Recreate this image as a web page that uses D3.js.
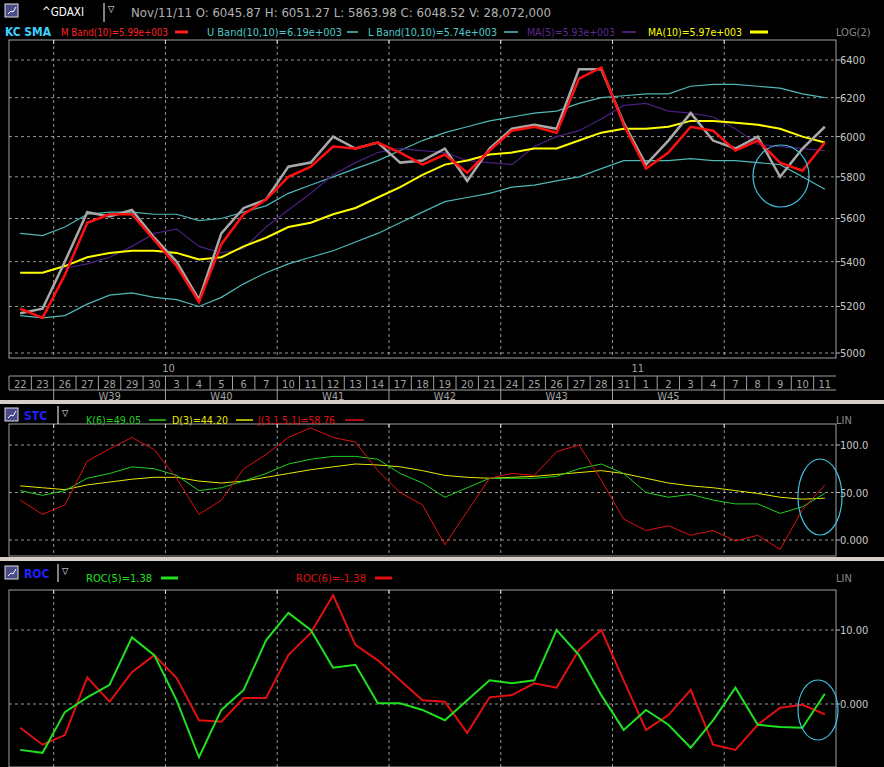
<!DOCTYPE html>
<html><head><meta charset="utf-8">
<script src="https://cdn.jsdelivr.net/npm/d3@7"></script>
<style>body{margin:0;background:#000}text{font-family:"Liberation Sans Narrow","DejaVu Sans Condensed",sans-serif}</style>
</head><body><svg id="c" width="884" height="767"></svg>
<script>
var days = ["22","23","26","27","28","29","30","3","4","5","6","7","10","11","12","13","14","17","18","19","20","21","24","25","26","27","28","31","1","2","3","4","7","8","9","10","11"];
var weeks = [["W39",2],["W40",7],["W41",12],["W42",17],["W43",22],["W45",27],["",32]];
var months = [["10",7],["11",28]];
var closeVals = [5170,5190,5400,5630,5610,5640,5510,5400,5230,5530,5650,5690,5850,5870,6000,5940,5970,5870,5880,5940,5780,5940,6040,6060,6040,6350,6350,6070,5860,5980,6120,5980,5940,6000,5800,5940,6050];
var mBand = [5190,5150,5340,5580,5620,5620,5500,5380,5220,5480,5620,5690,5800,5850,5950,5940,5970,5920,5860,5910,5820,5930,6030,6050,6020,6300,6360,6060,5840,5920,6050,6030,5930,5980,5870,5830,5970];
var uBand = [5530,5520,5560,5620,5630,5630,5620,5620,5590,5600,5630,5660,5720,5760,5800,5840,5880,5930,5980,6020,6050,6080,6100,6120,6130,6170,6200,6210,6220,6220,6260,6270,6270,6260,6250,6220,6200];
var lBand = [5160,5150,5160,5210,5250,5260,5240,5230,5200,5240,5300,5350,5390,5420,5450,5490,5530,5580,5630,5680,5700,5720,5750,5760,5780,5800,5840,5880,5880,5880,5890,5880,5880,5870,5860,5800,5740];
var ma5 = [null,null,5370,5390,5420,5470,5530,5550,5470,5440,5460,5560,5640,5720,5810,5870,5920,5940,5930,5920,5880,5870,5860,5950,6000,6030,6090,6160,6170,6130,6120,6100,6040,5960,5950,5940,5930];
var ma10 = [5350,5350,5380,5420,5440,5450,5450,5440,5410,5420,5470,5510,5560,5580,5620,5650,5700,5750,5810,5860,5880,5910,5920,5940,5940,5980,6020,6040,6040,6050,6080,6080,6070,6060,6040,6000,5970];
var stcK = [52,47,52,65,70,77,75,68,52,55,62,70,80,85,88,88,85,70,60,45,55,65,65,65,67,75,80,70,50,45,48,42,38,38,28,35,49];
var stcD = [57,55,53,58,61,64,66,66,62,60,62,66,70,74,77,80,79,77,73,68,66,65,66,67,69,71,73,70,65,60,57,55,52,49,45,43,44];
var stcJ = [42,27,37,83,96,108,95,65,27,42,75,90,108,118,108,103,73,50,37,-5,30,65,70,68,93,100,63,22,10,15,5,10,-1,5,-10,32,58];
var roc5 = [-6.2,-6.6,-1.1,0.9,2.6,9,6.6,0.5,-7.2,-0.8,1.9,8.6,12.3,10,4.9,5.3,0.1,0.1,-0.8,-2.2,0.5,3.2,2.8,3.2,10,6.6,1.2,-3.5,-0.8,-2.8,-5.9,-2.2,2.2,-2.8,-3.1,-3.2,1.38];
var roc6 = [-3.2,-5.5,-4.2,3.6,0.3,4.3,6.6,3.5,-2.2,-2.4,0.8,0.8,6.6,9.6,14.7,8,5.9,3.2,0.5,0.3,-3.9,0.9,1.2,2.8,2.2,7.3,10,3.2,-3.5,-1.5,1.9,-5.5,-6.2,-2.8,-0.5,-0.1,-1.38];
var priceTicks = [5000,5200,5400,5600,5800,6000,6200,6400];
var stcTicks = [0,50,100];
var rocTicks = [0,10];

var svg = d3.select("#c");
var L = 9, R = 836;
var x = d3.scaleLinear().domain([0, days.length]).range([L, R]);
var xc = function(d, i) { return x(i + 0.5); };

function txt(px, py, s, col, size, anchor, weight, len) {
	var t = svg.append("text").attr("x", px).attr("y", py).text(s).attr("fill", col)
		.attr("font-size", size || 11).attr("text-anchor", anchor || "start").attr("font-weight", weight || "normal");
	if (len) t.attr("textLength", len).attr("lengthAdjust", "spacingAndGlyphs");
	return t;
}
function icon(px, py) {
	svg.append("rect").attr("x", px).attr("y", py).attr("width", 13).attr("height", 13).attr("fill", "#4a4a8a").attr("stroke", "#ddd");
	svg.append("path").attr("d", "M" + (px+3) + "," + (py+10) + " l3,-3 l2,1 l3,-5").attr("stroke", "#fff").attr("fill", "none");
}
function grid(y, top, bot, ticks, fmt) {
	svg.append("rect").attr("x", L).attr("y", top).attr("width", R - L).attr("height", bot - top)
		.attr("fill", "none").attr("stroke", "#a0a0a0");
	ticks.forEach(function(t) {
		svg.append("line").attr("x1", L).attr("x2", R).attr("y1", y(t)).attr("y2", y(t))
			.attr("stroke", "#bbb").attr("stroke-dasharray", "3,3").attr("stroke-width", 0.8);
		svg.append("line").attr("x1", R).attr("x2", R + 4).attr("y1", y(t)).attr("y2", y(t)).attr("stroke", "#bbb");
		txt(R + 4, y(t) + 4, fmt(t), "#c8c8c8", 11);
	});
	weeks.forEach(function(w) {
		svg.append("line").attr("x1", x(w[1])).attr("x2", x(w[1])).attr("y1", top).attr("y2", bot)
			.attr("stroke", "#bbb").attr("stroke-dasharray", "3,3").attr("stroke-width", 0.8);
		svg.append("line").attr("x1", x(w[1])).attr("x2", x(w[1])).attr("y1", top).attr("y2", top + 4).attr("stroke", "#ddd");
	});
}
function series(vals, y, col, w) {
	var line = d3.line().defined(function(d) { return d != null; }).x(xc).y(function(d) { return y(d); });
	svg.append("path").datum(vals).attr("d", line).attr("fill", "none").attr("stroke", col).attr("stroke-width", w);
}
// legend item: [text x, text end, line x1, line x2, label, colour, line width]
function legend(items, ty) {
	items.forEach(function(l) {
		txt(l[0], ty, l[4], l[5], 11, "start", "normal", l[1] - l[0]);
		svg.append("line").attr("x1", l[2]).attr("x2", l[3]).attr("y1", ty - 4).attr("y2", ty - 4).attr("stroke", l[5]).attr("stroke-width", l[6]);
	});
}

// panel separators
svg.append("rect").attr("x", 0).attr("y", 400).attr("width", 884).attr("height", 4).attr("fill", "#d4d0c8");
svg.append("rect").attr("x", 0).attr("y", 557).attr("width", 884).attr("height", 4).attr("fill", "#d4d0c8");

// price panel
var yP = d3.scaleLog().domain([5000, 6400]).range([353, 60]);
grid(yP, 40, 358, priceTicks, function(t) { return t; });
series(uBand, yP, "#4fb8b8", 1.2);
series(lBand, yP, "#4fb8b8", 1.2);
series(ma5, yP, "#4a1f80", 1.2);
series(ma10, yP, "#ffff00", 2);
series(closeVals, yP, "#a8a8a8", 2.5);
series(mBand, yP, "#ff1010", 2.5);
svg.append("ellipse").attr("cx", 781).attr("cy", 176).attr("rx", 28).attr("ry", 31).attr("fill", "none").attr("stroke", "#40c0e0").attr("stroke-width", 1.2);

// header
icon(5, 4);
txt(42, 16, "^GDAXI", "#fff", 12, "start", "normal", 42);
svg.append("line").attr("x1", 104).attr("x2", 104).attr("y1", 3).attr("y2", 22).attr("stroke", "#fff");
txt(108, 12, "▽", "#fff", 9);
txt(131, 17, "Nov/11/11  O: 6045.87   H: 6051.27   L: 5863.98   C: 6048.52   V: 28,072,000", "#b0b0b0", 12, "start", "normal", 420);
txt(5, 36, "KC SMA", "#40d0ff", 12, "start", "bold", 46);
legend([[61, 168, 175, 188, "M Band(10)=5.99e+003", "#ff2020", 3],
	[207, 342, 347, 358, "U Band(10,10)=6.19e+003", "#4fc8c8", 1.5],
	[368, 497, 504, 518, "L Band(10,10)=5.74e+003", "#4fc8c8", 1.5],
	[527, 615, 622, 636, "MA(5)=5.93e+003", "#5a2a90", 1.5],
	[648, 742, 750, 768, "MA(10)=5.97e+003", "#ffff00", 3]], 36);
txt(836, 36, "LOG(2)", "#888", 11);

// x axis band
svg.append("line").attr("x1", L).attr("x2", R).attr("y1", 376).attr("y2", 376).attr("stroke", "#a0a0a0");
svg.append("line").attr("x1", L).attr("x2", R).attr("y1", 390).attr("y2", 390).attr("stroke", "#a0a0a0");
days.forEach(function(d, i) {
	svg.append("line").attr("x1", x(i)).attr("x2", x(i)).attr("y1", 376).attr("y2", 390).attr("stroke", "#a0a0a0");
	txt(x(i + 0.5), 388, d, "#a0a0a0", 11, "middle");
});
weeks.forEach(function(w) {
	svg.append("line").attr("x1", x(w[1])).attr("x2", x(w[1])).attr("y1", 390).attr("y2", 400).attr("stroke", "#a0a0a0");
	txt(x(w[1] + 2.5), 400, w[0], "#a0a0a0", 11, "middle");
});
months.forEach(function(m) { txt(x(m[1]) + 3, 372, m[0], "#a0a0a0", 11, "middle"); });

// STC panel
var yS = d3.scaleLinear().domain([0, 100]).range([540, 445]);
grid(yS, 424, 556, stcTicks, function(t) { return t == 100 ? "100.0" : t == 50 ? "50.00" : "0.000"; });
series(stcD, yS, "#e8e800", 1);
series(stcK, yS, "#20d020", 1);
series(stcJ, yS, "#e01010", 1);
svg.append("ellipse").attr("cx", 820).attr("cy", 497).attr("rx", 22).attr("ry", 38).attr("fill", "none").attr("stroke", "#40c0e0").attr("stroke-width", 1.2);
icon(5, 408);
txt(24, 420, "STC", "#2020ff", 12, "start", "bold");
svg.append("line").attr("x1", 58).attr("x2", 58).attr("y1", 406).attr("y2", 424).attr("stroke", "#fff");
txt(62, 416, "▽", "#fff", 9);
legend([[86, 141, 149, 166, "K(6)=49.05", "#20d020", 1.5],
	[172, 228, 236, 253, "D(3)=44.20", "#e8e800", 1.5],
	[258, 335, 345, 364, "J(3,1.5,1)=58.76", "#e01010", 1.5]], 424);
txt(836, 424, "LIN", "#888", 11);

// ROC panel
var yR = d3.scaleLinear().domain([0, 10]).range([704, 630]);
grid(yR, 590, 767, rocTicks, function(t) { return t == 10 ? "10.00" : "0.000"; });
series(roc6, yR, "#e01010", 2);
series(roc5, yR, "#20e020", 2);
svg.append("ellipse").attr("cx", 818).attr("cy", 710).attr("rx", 20).attr("ry", 30).attr("fill", "none").attr("stroke", "#40c0e0").attr("stroke-width", 1.2);
icon(5, 566);
txt(24, 578, "ROC", "#2020ff", 12, "start", "bold");
svg.append("line").attr("x1", 58).attr("x2", 58).attr("y1", 564).attr("y2", 582).attr("stroke", "#fff");
txt(62, 574, "▽", "#fff", 9);
legend([[86, 152, 161, 178, "ROC(5)=1.38", "#20e020", 3],
	[296, 366, 375, 392, "ROC(6)=-1.38", "#e01010", 3]], 582);
txt(836, 582, "LIN", "#888", 11);
</script></body></html>
